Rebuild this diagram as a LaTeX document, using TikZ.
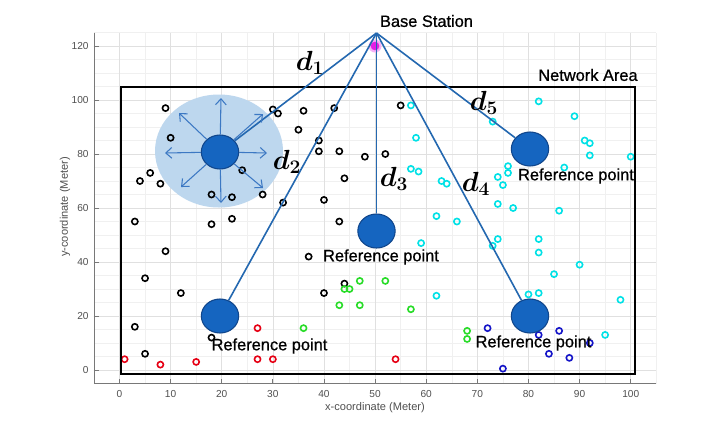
\documentclass[tikz,border=0pt]{standalone}
\usepackage{bm}
\usepackage{fontspec}
\newfontfamily\arial{Liberation Sans}
\newfontfamily\arialheavy[FakeBold=0.8]{Liberation Sans}
\usetikzlibrary{arrows.meta,shapes.geometric}
\definecolor{refblue}{RGB}{21,101,192}
\definecolor{refedge}{RGB}{16,70,140}
\definecolor{linkblue}{RGB}{36,104,176}
\definecolor{halo}{RGB}{189,215,238}
\definecolor{arrowblue}{RGB}{60,120,195}
\definecolor{mgreen}{RGB}{40,220,40}
\definecolor{mcyan}{RGB}{0,225,230}
\definecolor{mblue}{RGB}{20,20,200}
\definecolor{mred}{RGB}{230,0,20}
\definecolor{axisgray}{RGB}{120,120,120}
\definecolor{ticktext}{RGB}{80,80,80}
\definecolor{gridmajor}{RGB}{224,224,224}
\definecolor{gridminor}{RGB}{240,240,240}
\definecolor{bsmagenta}{RGB}{230,30,230}
\begin{document}
\begin{tikzpicture}[x=0.75pt,y=-0.75pt,
  refpt/.style={ellipse,fill=refblue,draw=refedge,line width=0.8pt,minimum width=28pt,minimum height=25.5pt,inner sep=0pt},
  link/.style={draw=linkblue,line width=1.2pt},
  arr/.style={draw=arrowblue,line width=0.8pt,-{Straight Barb[length=4.5pt,width=8pt]}},
  mk/.style={line width=1.2pt},
  lbl/.style={font=\arialheavy\fontsize{12.3}{14}\selectfont,inner sep=0pt},
  dlbl/.style={font=\fontsize{20}{24}\selectfont,inner sep=0pt},
  ticklbl/.style={font=\arial\fontsize{7.6}{9}\selectfont,text=ticktext,inner sep=0pt},
  axlbl/.style={font=\arial\fontsize{8.3}{10}\selectfont,text=ticktext,inner sep=0pt}]
\useasboundingbox (0,0) rectangle (725,430);
\fill[white] (0,0) rectangle (725,430);
\begin{scope}[shift={(89.625pt,-277.5pt)},x=3.834pt,y=2.025pt]
  % grid
  \foreach \gx in {-5,0,...,105} \draw[gridminor,line width=0.4pt] (\gx,-5) -- (\gx,125);
  \foreach \gy in {-5,0,...,125} \draw[gridminor,line width=0.4pt] (-5,\gy) -- (105,\gy);
  \foreach \gx in {0,10,...,100} \draw[gridmajor,line width=0.5pt] (\gx,-5) -- (\gx,125);
  \foreach \gy in {0,20,...,120} \draw[gridmajor,line width=0.5pt] (-5,\gy) -- (105,\gy);
  % axes
  \draw[axisgray,line width=0.6pt] (-5,125) -- (-5,-5) -- (105,-5);
  \foreach \gx in {0,10,...,100} {
    \draw[axisgray,line width=0.6pt] (\gx,-5) -- ++(0pt,3.5pt);
    \node[ticklbl] (xt\gx) at ([yshift=-7.6pt]\gx,-5) {\gx};
  }
  \foreach \gy in {0,20,...,120} {
    \draw[axisgray,line width=0.6pt] (-5,\gy) -- ++(3.5pt,0pt);
    \node[ticklbl,anchor=east] (yt\gy) at ([xshift=-3.8pt]-5,\gy) {\gy};
  }
\end{scope}
\fill[halo] (219,151) ellipse [x radius=64, y radius=56.5];
\begin{scope}[shift={(89.625pt,-277.5pt)},x=3.834pt,y=2.025pt]
  \foreach \a/\b in {9/97,10/86,4/70,6/73,8/69,3/55,9/44,5/34,12/28.5,3/16,5/6,18/12,18/65,22/64,28/65,24/74,18/54,22/56,30/96.5,31/95,32/62,36/96,42/97,35/89,39/85,39/81,43/81,48/79,52/80,44/71,40/63,43/55,55/98,37/42,44/32,40/28.5}
    \draw[mk,black] (\a,\b) circle[radius=2.3pt];
  \foreach \a/\b in {1/4,8/2,15/3,27/15.5,27/4,30/4,54/4}
    \draw[mk,mred] (\a,\b) circle[radius=2.3pt];
  \foreach \a/\b in {36/15.5,43/24,47/24,44/30,45/30,47/33,52/33,57/22.5,68/14.5,68/11.5}
    \draw[mk,mgreen] (\a,\b) circle[radius=2.3pt];
  \foreach \a/\b in {57/98,58/86,57/74.5,58.5/73.5,63/70,64/69,62/57,66/55,59/47,62/27.5,73/92,82/99.5,89/94,91/85,92/84,92/79.5,100/79,87/75,76/75.5,76/73,74/71.5,75/68.5,74/61.5,77/60,86/59,74/48.5,73/46,82/48.5,82/43.5,90/39,85/35.5,80/28,82/28.5,98/26,95/13}
    \draw[mk,mcyan] (\a,\b) circle[radius=2.3pt];
  \foreach \a/\b in {72/15.5,82/13,86/14.5,92/10,84/6,88/4.5,75/0.5}
    \draw[mk,mblue] (\a,\b) circle[radius=2.3pt];
\end{scope}
% network area
\draw[black,line width=1.6pt] (120.7,87) rectangle (635.3,374);
% base station
\fill[bsmagenta!35] (375,46) circle (6.5);
\node[circle,fill=bsmagenta,minimum size=6.5pt,inner sep=0pt] (bsdot) at (375,46) {};
\coordinate (bs) at (376.5,33);
% reference points
\node[refpt] (rp1) at (220,152) {};
\node[refpt] (rp2) at (376.5,231) {};
\node[refpt] (rp3) at (530,149) {};
\node[refpt] (rp4) at (220,316) {};
\node[refpt] (rp5) at (530,316) {};
% links
\draw[link] (bs) -- (rp1);
\draw[link] (bs) -- (rp2);
\draw[link] (bs) -- (rp3);
\draw[link] (bs) -- (rp4);
\draw[link] (bs) -- (rp5);
% radiating arrows
\draw[arr] (rp1) -- ++(1,-54);
\draw[arr] (rp1) -- ++(47,1);
\draw[arr] (rp1) -- ++(-55,1);
\draw[arr] (rp1) -- ++(1,51);
\draw[arr] (rp1) -- ++(-41,-39);
\draw[arr] (rp1) -- ++(43,-38);
\draw[arr] (rp1) -- ++(-39,35);
\draw[arr] (rp1) -- ++(43,36);
% labels
\node[lbl] (bslabel) at (426.5,21) {Base Station};
\node[lbl] (netlabel) at (588,75) {Network Area};
\node[lbl] (rl3) at (576,176) {Reference point};
\node[lbl] (rl2) at (381,257) {Reference point};
\node[lbl] (rl4) at (269.5,346) {Reference point};
\node[lbl] (rl5) at (533.5,343) {Reference point};
\node[dlbl] (d1) at (310,63) {$\bm{d_1}$};
\node[dlbl] (d2) at (287,162) {$\bm{d_2}$};
\node[dlbl] (d3) at (394,179) {$\bm{d_3}$};
\node[dlbl] (d4) at (476,184) {$\bm{d_4}$};
\node[dlbl] (d5) at (484,103) {$\bm{d_5}$};
\node[axlbl] (xlab) at (375,408) {x-coordinate (Meter)};
\node[axlbl,rotate=90] (ylab) at (65,207) {y-coordinate (Meter)};
\end{tikzpicture}
\end{document}
